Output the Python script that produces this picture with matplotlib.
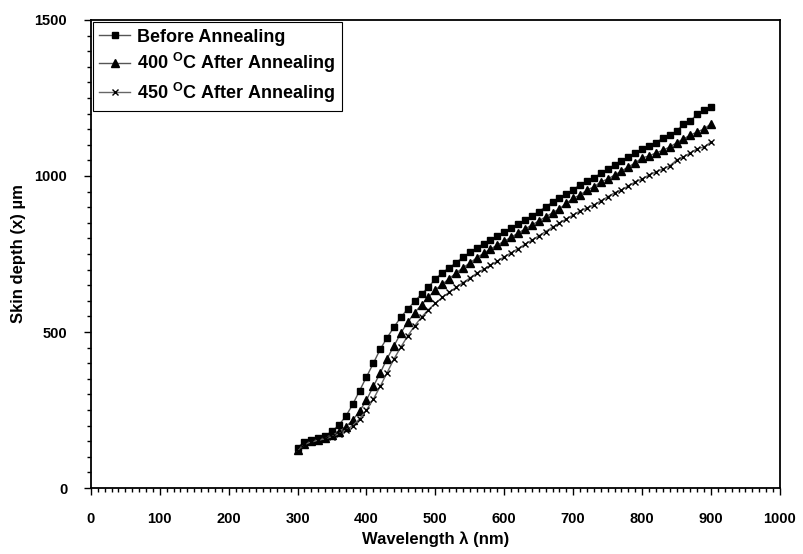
import numpy as np
import matplotlib
matplotlib.use('Agg')
import matplotlib.pyplot as plt
from matplotlib.ticker import MultipleLocator

plt.rcParams['font.family'] = ['Liberation Sans', 'DejaVu Sans']

# wavelength (nm), 300..900 step 10
wavelength = list(range(300, 901, 10))

before = [130, 148, 153, 160, 168, 182, 202, 230, 268, 312,
          356, 400, 445, 482, 516, 548, 574, 598, 622, 644,
          670, 690, 706, 722, 740, 755, 770, 783, 796, 807,
          820, 833, 846, 859, 872, 886, 901, 916, 929, 942,
          956, 972, 984, 995, 1008, 1022, 1036, 1049, 1060, 1073,
          1086, 1096, 1107, 1121, 1131, 1144, 1166, 1176, 1198, 1210,
          1221]

after_400 = [122, 142, 150, 155, 162, 170, 180, 196, 218, 246,
             282, 326, 369, 415, 456, 497, 532, 562, 588, 612,
             635, 653, 671, 689, 706, 721, 738, 752, 766, 779,
             791, 804, 817, 830, 843, 856, 869, 882, 895, 912,
             929, 939, 955, 965, 981, 990, 1003, 1016, 1029, 1042,
             1058, 1064, 1074, 1082, 1093, 1106, 1119, 1131, 1141, 1151,
             1167]

after_450 = [118, 140, 148, 153, 158, 165, 174, 186, 200, 222,
             250, 285, 326, 370, 414, 452, 488, 520, 548, 572,
             592, 611, 627, 643, 658, 673, 688, 701, 714, 727,
             741, 754, 767, 781, 794, 808, 822, 836, 849, 862,
             875, 888, 897, 907, 920, 933, 946, 955, 968, 981,
             990, 1003, 1013, 1022, 1032, 1051, 1061, 1074, 1087, 1093,
             1109]

fig = plt.figure(figsize=(8.04, 5.54), dpi=100)
ax = fig.add_axes([0.113, 0.119, 0.857, 0.845])

ax.plot(wavelength, before, color='#555555', lw=1.0, marker='s', ms=4.5,
        mfc='black', mec='black', label='Before Annealing')
ax.plot(wavelength, after_400, color='#555555', lw=1.0, marker='^', ms=5.5,
        mfc='black', mec='black', label='400 $\\mathregular{^{O}}$C After Annealing')
ax.plot(wavelength, after_450, color='#666666', lw=1.0, marker='x', ms=4,
        mew=1.0, mfc='black', mec='black', label='450 $\\mathregular{^{O}}$C After Annealing')

ax.set_xlim(0, 1000)
ax.set_ylim(0, 1500)
ax.xaxis.set_major_locator(MultipleLocator(100))
ax.xaxis.set_minor_locator(MultipleLocator(10))
ax.yaxis.set_major_locator(MultipleLocator(500))
ax.yaxis.set_minor_locator(MultipleLocator(50))
ax.tick_params(which='both', direction='out', top=False, right=False,
               labelsize=10.5, width=1.0, color='black')
ax.tick_params(which='major', length=5, pad=12)
ax.tick_params(which='minor', length=3)
for lab in ax.get_xticklabels() + ax.get_yticklabels():
    lab.set_fontweight('bold')

for sp in ax.spines.values():
    sp.set_linewidth(1.3)
    sp.set_color('black')

ax.set_xlabel('Wavelength λ (nm)', fontsize=12, fontweight='bold', labelpad=4)
ax.set_ylabel('Skin depth (x) µm', fontsize=12, fontweight='bold', labelpad=6)

leg = ax.legend(loc='upper left', bbox_to_anchor=(0.003, 0.995), fancybox=False,
                framealpha=1, edgecolor='black', borderpad=0.35, labelspacing=0.3,
                handlelength=1.7, handletextpad=0.4, borderaxespad=0.0,
                prop={'size': 13, 'weight': 'bold'})
leg.get_frame().set_linewidth(0.8)

fig.savefig('out.png', dpi=100)
